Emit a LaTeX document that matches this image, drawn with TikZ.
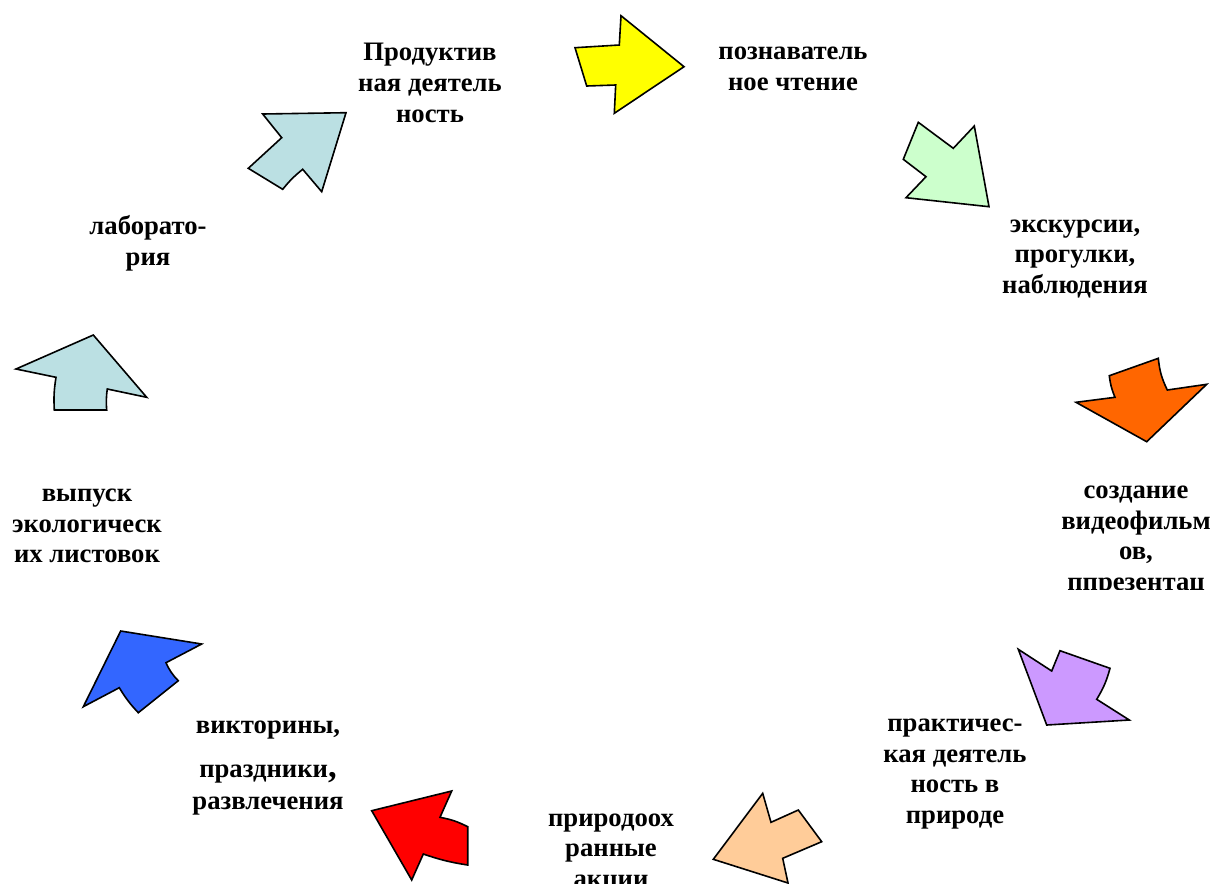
\documentclass[tikz,border=0pt]{standalone}
\usepackage{fontspec}
\setmainfont{Liberation Serif}
\usepackage{tikz}
\tikzset{every picture/.style={line width=1.2pt},
  lbl/.style={font=\bfseries\fontsize{20}{23}\selectfont, align=center, inner sep=0pt},
  arr/.style={draw=black, line join=miter}}
\definecolor{cyel}{HTML}{FFFF00}
\definecolor{cgrn}{HTML}{CCFFCC}
\definecolor{corg}{HTML}{FF6600}
\definecolor{cprp}{HTML}{CC99FF}
\definecolor{cpch}{HTML}{FFCC99}
\definecolor{cred}{HTML}{FF0000}
\definecolor{cblu}{HTML}{3366FF}
\definecolor{clbl}{HTML}{BBE0E3}

\begin{document}
\begin{tikzpicture}[x=0.75pt,y=-0.75pt]
\useasboundingbox (0,0) rectangle (1214,883);

\begin{scope}[every node/.style={lbl}]
\node (prod) at (430,83) {Продуктив\\ная деятель\\ность};
\node (pozn) at (793,69) {познаватель\\ное чтение};
\node (ekskur) at (1075,259) {экскурсии,\\прогулки,\\наблюдения};
\node (prakt) at (955,774) {практичес-\\кая деятель\\ность в\\природе};
\node (prirod) at (611,853) {природоох\\ранные\\акции};
\node (viktor) at (268,768) {викторины,\\[10pt]праздники{\fontsize{26}{26}\selectfont,}\\[1pt]развлечения};
\node (vypusk) at (87,526) {выпуск\\экологическ\\их листовок};
\node (labor) at (148,243) {лаборато-\\рия};
\end{scope}
\begin{scope}
\clip (1000,450) rectangle (1214,589);
\node[lbl] (sozd) at (1136,541) {создание\\видеофильм\\ов,\\ппрезентац};
\end{scope}

% arrows round the circle
\draw[arr, fill=cyel] (575,47.7) -- (619.3,45) -- (621,15.7) -- (684,66.7)
  -- (614.3,113.3) -- (615.7,85) -- (586.7,86) -- cycle;
\draw[arr, fill=cgrn] (918.3,122.3) -- (953.3,148.3) -- (974.3,126) -- (989,206.7)
  -- (906,197.7) -- (926,176.7) -- (903.3,159.3) -- cycle;
\draw[arr, fill=corg] (1109.3,375.7) -- (1158.3,358.3) to[bend right=10] (1167.3,390)
  -- (1206.7,384.3) -- (1146.7,441.7) -- (1076,402.3) -- (1115,397.3) to[bend left=8] cycle;
\draw[arr, fill=cprp] (1018.3,649.3) -- (1051.7,671) -- (1060,650.7) -- (1110,668.3)
  to[bend left=8] (1096.7,699.3) -- (1129.3,720) -- (1046.7,725) -- cycle;
\draw[arr, fill=cpch] (762.7,793.3) -- (771,822.3) -- (798.3,810) -- (821.7,841.7)
  -- (782.7,858.3) -- (788,883) -- (713.3,859.3) -- cycle;
\draw[arr, fill=cred] (451.7,791) -- (440,817.3) to[bend left=8] (467.7,826.7) -- (467.7,865)
  to[bend left=5] (423.3,854) -- (411.7,880) -- (371.7,810.7) -- cycle;
\draw[arr, fill=cblu] (120.7,631) -- (201.7,644) -- (166,662.7) to[bend right=10] (178.3,680.7)
  -- (138.3,712.7) to[bend left=6] (119.3,687.7) -- (83.3,706.7) -- cycle;
\draw[arr, fill=clbl] (93.3,335) -- (146.7,397.3) -- (107.3,389) to[bend right=6] (106.7,410)
  -- (54.3,410) to[bend left=6] (56,377.3) -- (16,369) -- cycle;
\draw[arr, fill=clbl] (262.7,114) -- (346,112.7) -- (321.7,191.7) -- (302.7,169.3)
  to[bend right=6] (282.7,189.3) -- (248.3,168.3) -- (281.7,137.7) -- cycle;
\end{tikzpicture}
\end{document}
